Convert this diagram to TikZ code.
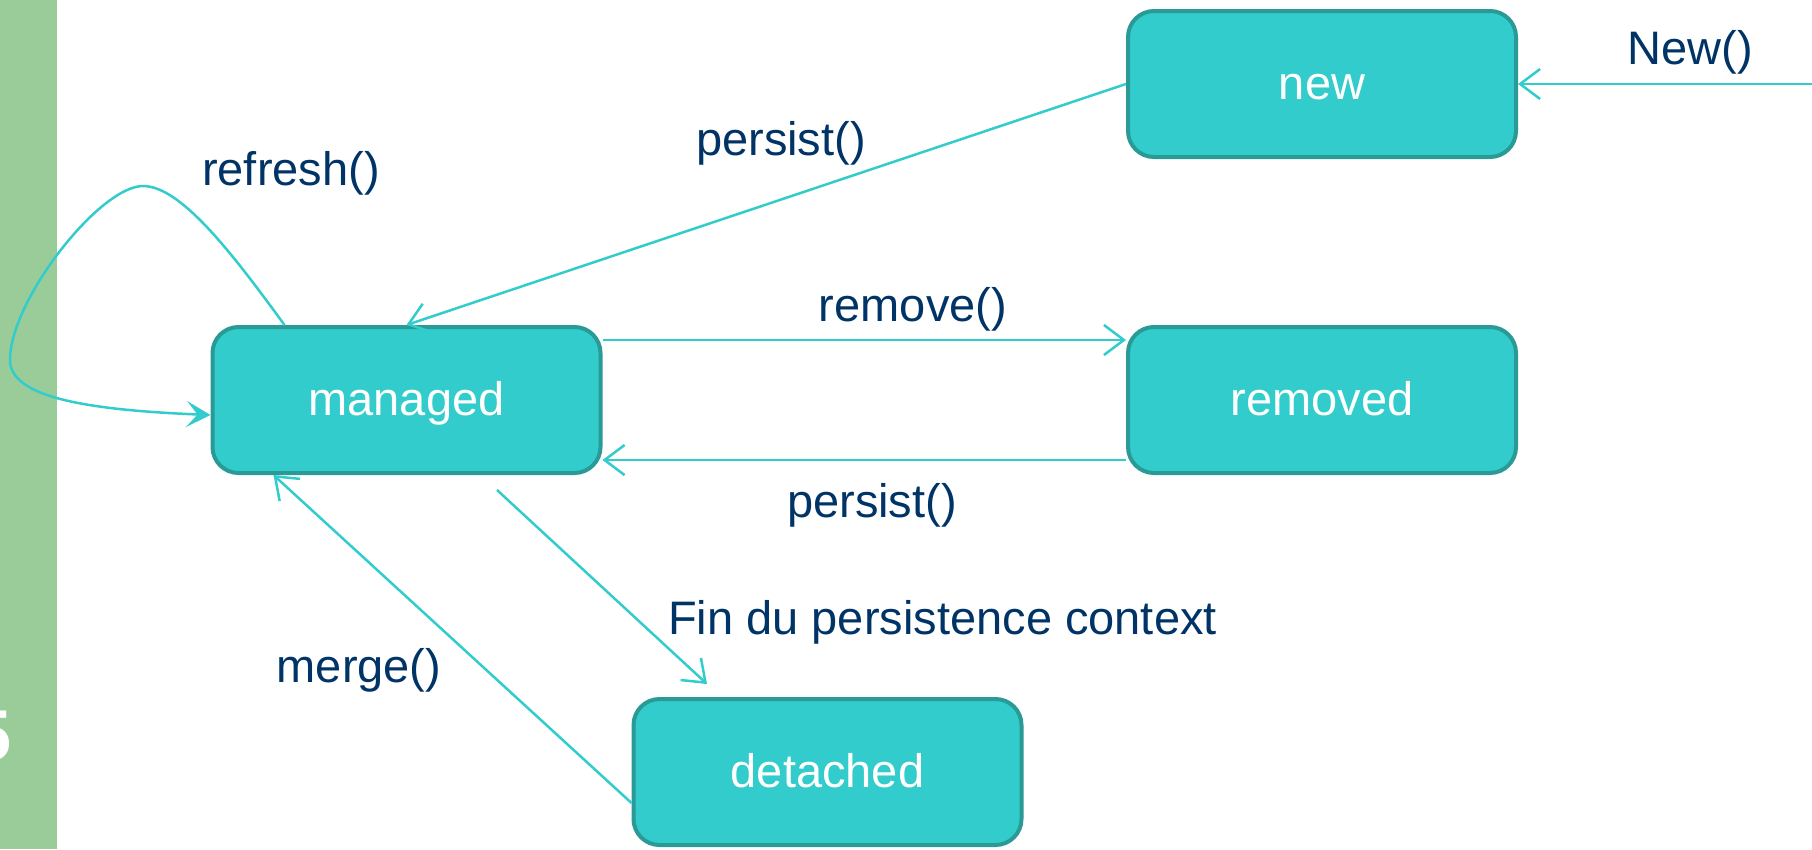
\documentclass[tikz,border=0pt]{standalone}
\usepackage{fontspec}
\setmainfont{Liberation Sans}
\usetikzlibrary{arrows.meta}
\definecolor{boxfill}{HTML}{33CCCC}
\definecolor{boxline}{HTML}{2A9A96}
\definecolor{navy}{HTML}{003366}
\definecolor{barg}{HTML}{99CC99}
\tikzset{
  state/.style={draw=boxline, fill=boxfill, line width=4pt, rounded corners=26pt,
    minimum width=388pt, minimum height=146pt, text=white, inner sep=0pt,
    text height=34pt, text depth=4pt,
    font=\fontsize{47pt}{56pt}\selectfont},
  lbl/.style={text=navy, inner sep=0pt, font=\fontsize{47pt}{56pt}\selectfont},
  arr/.style={draw=boxfill, line width=2.5pt, -{Straight Barb[length=20pt,width=30pt,line width=2.5pt]}},
  loop/.style={draw=boxfill, line width=2.5pt, -{Stealth[length=24pt,width=26pt,inset=11pt]}}
}
\begin{document}
\begin{tikzpicture}[x=1pt,y=-1pt]
\useasboundingbox (0,0) rectangle (1812,849);
\fill[white] (0,0) rectangle (1812,849);
\fill[barg] (0,0) rectangle (57,849);
\node[text=white, font=\fontsize{72pt}{80pt}\selectfont\bfseries, inner sep=0pt] (num) at (-8,736) {5};

\node[state] (new) at (1322,84) {new};
\node[state] (managed) at (406.5,400) {managed};
\node[state] (removed) at (1322,400) {removed};
\node[state] (detached) at (827.5,772) {detached};

\coordinate (ext) at (1812,84);
\coordinate (finstart) at (497,490);
\coordinate (finend) at (707,684);

\draw[arr] (ext) -- (new.east);
\draw[arr] (new.west) -- (managed.north);
\draw[arr] ([yshift=60pt]managed.east) -- ([yshift=60pt]removed.west);
\draw[arr] ([yshift=-60pt]removed.west) -- ([yshift=-60pt]managed.east);
\draw[arr] (finstart) -- (finend);
\draw[arr] ([yshift=-31pt]detached.west) -- ([xshift=-133pt]managed.south);
\draw[loop] ([xshift=-122pt]managed.north) .. controls (230,250) and (180,186) .. (143,186)
  .. controls (100,186) and (10,300) .. (10,360)
  .. controls (10,398) and (90,410) .. ([yshift=-15pt]managed.west);

\node[lbl] (lnew) at (1690,52) {New()};
\node[lbl] (lpersist1) at (781,143) {persist()};
\node[lbl] (lrefresh) at (291,173) {refresh()};
\node[lbl] (lremove) at (913,309) {remove()};
\node[lbl] (lpersist2) at (872,505) {persist()};
\node[lbl, anchor=west] (lfin) at (668,622) {Fin du persistence context};
\node[lbl] (lmerge) at (359,670) {merge()};
\end{tikzpicture}
\end{document}
